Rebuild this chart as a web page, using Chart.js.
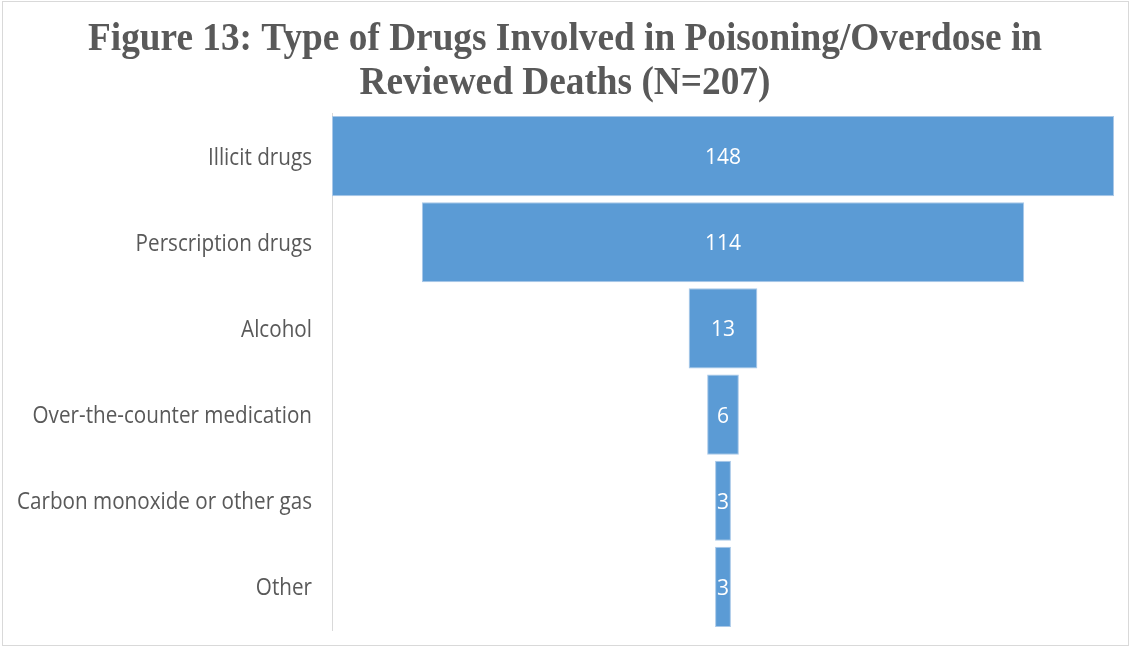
<!DOCTYPE html>
<html>
<head>
<meta charset="utf-8">
<script src="https://cdn.jsdelivr.net/npm/chart.js@4"></script>
<style>
  html, body { margin: 0; padding: 0; background: #fff; }
  #wrap { position: relative; width: 1131px; height: 647px; }
  #frame { position: absolute; left: 2px; top: 1px; right: 2px; bottom: 1px; border: 1px solid #d9d9d9; pointer-events: none; }
  canvas { display: block; }
</style>
</head>
<body>
<div id="wrap">
  <canvas id="c" width="1131" height="647"></canvas>
  <div id="frame"></div>
</div>
<script>
const categories = ["Illicit drugs", "Perscription drugs", "Alcohol", "Over-the-counter medication", "Carbon monoxide or other gas", "Other"];
const values = [148, 114, 13, 6, 3, 3];
const titleLines = ["Figure 13: Type of Drugs Involved in Poisoning/Overdose in", "Reviewed Deaths (N=207)"];

const floating = values.map(v => [-v / 2, v / 2]);

// Title drawn with a slight vertical stretch like the reference
const titlePlugin = {
  id: 'stretchedTitle',
  afterDraw(chart) {
    const ctx = chart.ctx;
    ctx.save();
    ctx.fillStyle = '#595959';
    const fs = 32;
    ctx.font = 'bold ' + fs + 'px "Liberation Serif", "Times New Roman", serif';
    ctx.textAlign = 'center';
    ctx.textBaseline = 'alphabetic';
    const w1 = ctx.measureText(titleLines[0]).width;
    const sx = 954 / w1;
    const sy = 26 / (0.662 * fs);
    const cx = 565;
    const baselines = [50, 94];
    titleLines.forEach((line, i) => {
      ctx.save();
      ctx.translate(cx, baselines[i]);
      ctx.scale(sx, sy);
      ctx.fillText(line, 0, 0);
      ctx.restore();
    });
    ctx.restore();
  }
};

// Category labels drawn at the y-scale tick positions, stretched vertically
const catLabelPlugin = {
  id: 'catLabels',
  afterDraw(chart) {
    const ctx = chart.ctx;
    const yScale = chart.scales.y;
    ctx.save();
    ctx.fillStyle = '#595959';
    const fs = 20;
    ctx.font = fs + 'px "Open Sans", Lato, sans-serif';
    ctx.textAlign = 'right';
    ctx.textBaseline = 'alphabetic';
    const wRef = ctx.measureText(categories[4]).width;
    const sx = 295 / wRef;
    const sy = 17 / (0.714 * fs);
    const right = chart.chartArea.left - 20;
    categories.forEach((c, i) => {
      const y = yScale.getPixelForTick(i);
      ctx.save();
      ctx.translate(right, y + 8.5);
      ctx.scale(sx, sy);
      ctx.fillText(c, 0, 0);
      ctx.restore();
    });
    ctx.restore();
  }
};

const valueLabelPlugin = {
  id: 'centerLabels',
  afterDatasetsDraw(chart) {
    const ctx = chart.ctx;
    const meta = chart.getDatasetMeta(0);
    ctx.save();
    ctx.fillStyle = '#ffffff';
    ctx.font = '21px "Open Sans", Lato, sans-serif';
    ctx.textAlign = 'center';
    ctx.textBaseline = 'alphabetic';
    meta.data.forEach((bar, i) => {
      const cx = (bar.x + bar.base) / 2;
      ctx.fillText(String(values[i]), cx, bar.y + 8);
    });
    ctx.restore();
  }
};

new Chart(document.getElementById('c'), {
  type: 'bar',
  data: {
    labels: categories,
    datasets: [{
      data: floating,
      backgroundColor: '#5b9bd5',
      borderColor: '#a9c8e8',
      borderWidth: 1,
      borderSkipped: false,
      categoryPercentage: 0.93,
      barPercentage: 1.0
    }]
  },
  options: {
    indexAxis: 'y',
    responsive: false,
    animation: false,
    layout: { padding: { left: 0, right: 17, top: 113, bottom: 17 } },
    plugins: {
      legend: { display: false },
      tooltip: { enabled: false },
      title: { display: false }
    },
    scales: {
      x: {
        display: false,
        min: -74,
        max: 74
      },
      y: {
        grid: { display: false, drawTicks: false },
        border: { display: true, color: '#d9d9d9', width: 1 },
        ticks: { display: false },
        afterFit(scale) { scale.width = 332; }
      }
    }
  },
  plugins: [titlePlugin, catLabelPlugin, valueLabelPlugin]
});
</script>
</body>
</html>
